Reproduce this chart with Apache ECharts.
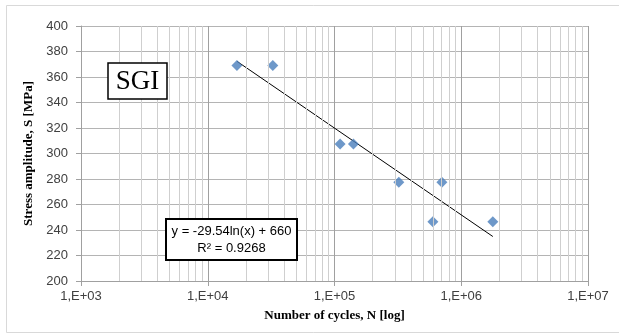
<!DOCTYPE html>
<html>
<head>
<meta charset="utf-8">
<script src="https://cdn.jsdelivr.net/npm/echarts@6/dist/echarts.min.js"></script>
<style>
html,body{margin:0;padding:0;background:#fff;}
#chart{width:619px;height:334px;}
</style>
</head>
<body>
<div id="chart"></div>
<script>
// Data
const cyclesN = [17000, 32600, 110700, 141000, 321600, 597000, 703000, 1775000];
const stressS = [369, 369, 307.5, 307.5, 277.5, 246.5, 277.5, 246.5];
// Logarithmic trendline y = -29.54 ln(x) + 660, endpoints as drawn
const trendN = [17000, 1775000];
const trendS = [372.3, 234.9];
// Minor (2..9 per decade) vertical gridline values
const minorGridN = [
  2000, 3000, 4000, 5000, 6000, 7000, 8000, 9000,
  20000, 30000, 40000, 50000, 60000, 70000, 80000, 90000,
  200000, 300000, 400000, 500000, 600000, 700000, 800000, 900000,
  2000000, 3000000, 4000000, 5000000, 6000000, 7000000, 8000000, 9000000
];
const yTicks = [200, 220, 240, 260, 280, 300, 320, 340, 360, 380, 400];
const equationText = 'y = -29.54ln(x) + 660';
const r2Text = 'R\u00B2 = 0.9268';
const seriesLabel = 'SGI';

const chart = echarts.init(document.getElementById('chart'), null, {renderer: 'canvas'});
const option = {
  animation: false,
  backgroundColor: '#ffffff',
  grid: {left: 81, right: 31, top: 26, bottom: 53, containLabel: false},
  xAxis: {
    type: 'log', logBase: 10, min: 1000, max: 10000000, splitNumber: 4,
    name: 'Number of cycles, N [log]', nameLocation: 'middle', nameGap: 28,
    nameTextStyle: {fontFamily: 'Liberation Serif', fontWeight: 'bold', fontSize: 13, color: '#000'},
    axisLine: {show: true, lineStyle: {color: '#a0a0a0', width: 1}},
    axisTick: {show: true, inside: false, length: 5, lineStyle: {color: '#a0a0a0'}},
    axisLabel: {
      margin: 9, fontFamily: 'Liberation Sans', fontSize: 13, color: '#404040',
      formatter: v => '1,E+' + String(Math.round(Math.log10(v))).padStart(2, '0')
    },
    splitLine: {show: true, lineStyle: {color: '#a0a0a0', width: 1}},
    minorTick: {show: false}, minorSplitLine: {show: false}
  },
  yAxis: {
    type: 'value', min: yTicks[0], max: yTicks[yTicks.length - 1], interval: 20,
    name: 'Stress amplitude, S [MPa]', nameLocation: 'middle', nameGap: 44,
    nameTextStyle: {fontFamily: 'Liberation Serif', fontWeight: 'bold', fontSize: 13, color: '#000'},
    axisLine: {show: true, lineStyle: {color: '#a0a0a0', width: 1}},
    axisTick: {show: true, inside: false, length: 5, lineStyle: {color: '#a0a0a0'}},
    axisLabel: {margin: 13, fontFamily: 'Liberation Sans', fontSize: 13, color: '#404040'},
    splitLine: {show: true, lineStyle: {color: '#b4b4b4', width: 1}}
  },
  series: [
    {
      type: 'line', data: [], z: 1, silent: true,
      markLine: {
        silent: true, symbol: ['none', 'none'], animation: false,
        label: {show: false},
        lineStyle: {color: '#cfcfcf', width: 1, type: 'solid'},
        emphasis: {disabled: true},
        data: minorGridN.map(v => ({xAxis: v}))
      }
    },
    {
      type: 'line', z: 3, silent: true, symbol: 'none',
      data: trendN.map((n, i) => [n, trendS[i]]),
      lineStyle: {color: '#000000', width: 1}
    },
    {
      type: 'scatter', z: 4, symbol: 'diamond', symbolSize: 11,
      data: cyclesN.map((n, i) => [n, stressS[i]]),
      itemStyle: {color: '#4a7ebb'}
    }
  ],
  graphic: [
    {type: 'rect', shape: {x: 6.5, y: 5.5, width: 640, height: 327}, style: {fill: 'none', stroke: '#d9d9d9', lineWidth: 1}, z: 0, silent: true},
    {type: 'rect', shape: {x: 108, y: 63, width: 59, height: 36}, style: {fill: '#fff', stroke: '#000', lineWidth: 1.5}, z: 10},
    {type: 'text', x: 137.5, y: 81.5, style: {text: seriesLabel, font: '27px "Liberation Serif"', fill: '#000', align: 'center', verticalAlign: 'middle'}, z: 11},
    {type: 'rect', shape: {x: 166, y: 219, width: 131, height: 41}, style: {fill: '#fff', stroke: '#000', lineWidth: 2}, z: 10},
    {type: 'text', x: 231.5, y: 231, style: {text: equationText, font: '13px "Liberation Sans"', fill: '#000', align: 'center', verticalAlign: 'middle'}, z: 11},
    {type: 'text', x: 231.5, y: 248, style: {text: r2Text, font: '13px "Liberation Sans"', fill: '#000', align: 'center', verticalAlign: 'middle'}, z: 11}
  ]
};
chart.setOption(option);
</script>
</body>
</html>
